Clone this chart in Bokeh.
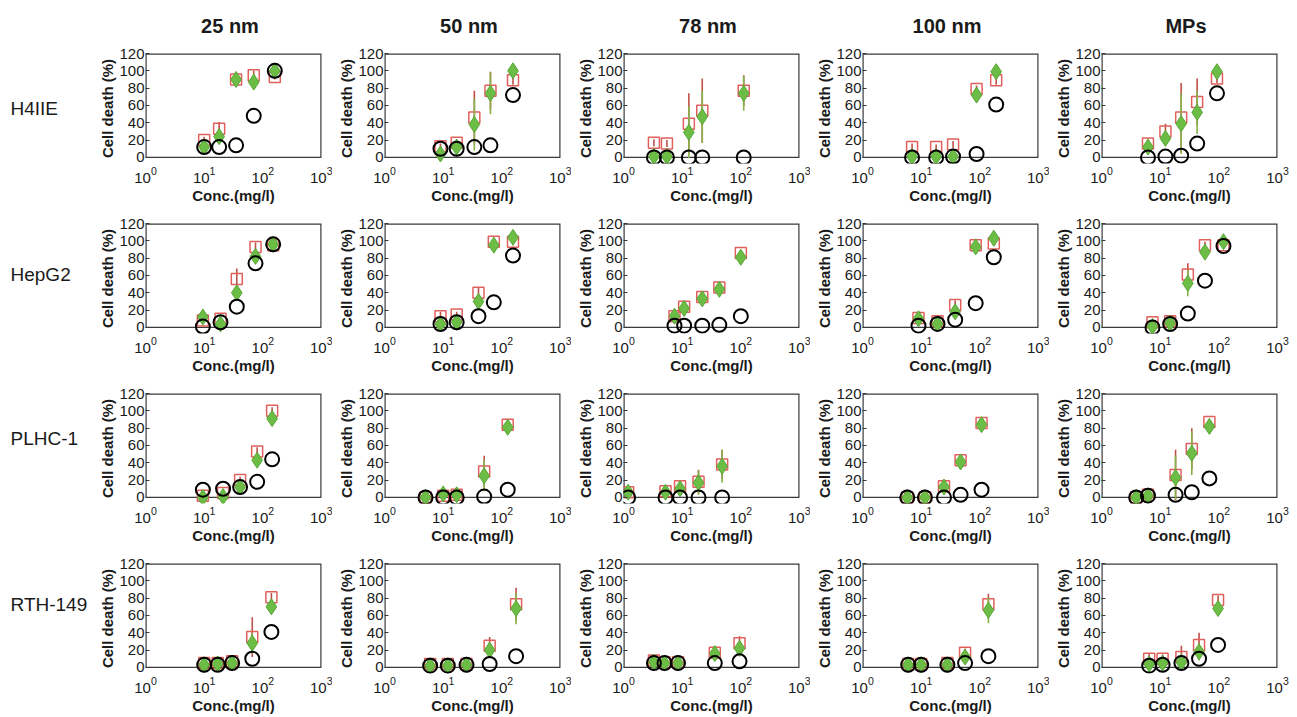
from bokeh.plotting import figure
from bokeh.layouts import gridplot
from bokeh.models import Range1d, FixedTicker, ColumnDataSource
from bokeh.core.properties import value
from bokeh.embed import file_html
from bokeh.resources import INLINE

FONT = "Liberation Sans"

# ---------------- data ----------------
particle_sizes = ["25 nm", "50 nm", "78 nm", "100 nm", "MPs"]
cell_lines = ["H4IIE", "HepG2", "PLHC-1", "RTH-149"]
x_ticks = [1, 10, 100, 1000]
y_ticks = [0, 20, 40, 60, 80, 100, 120]

# H4IIE (one inner list per particle size)
h4iie_conc = [[10, 18, 35, 70, 160], [9, 17, 34, 64, 155], [3.3, 5.5, 13, 22, 112],
              [7, 18, 35, 88, 190], [6.2, 12.3, 22.8, 42.7, 93]]
h4iie_red = [[20, 33, 90, 95, 93], [13, 17, 46, 77, 89], [17, 16, 39, 54, 77],
             [12, 12, 15, 79, 89], [16, 30, 46, 64, 91]]
h4iie_red_err = [[4, 8, 4, 5, 3], [3, 3, 31, 22, 5], [4, 4, 35, 37, 18],
                 [4, 3, 4, 4, 5], [4, 9, 40, 27, 5]]
h4iie_green = [[12, 24, 90, 87, 100], [4, 12, 38, 74, 100], [1, 1, 29, 47, 74],
               [1, 1, 1, 72, 99], [12, 22, 39, 52, 99]]
h4iie_green_err = [[3, 5, 4, 4, 3], [4, 5, 30, 24, 4], [2, 2, 30, 30, 20],
                   [2, 2, 2, 5, 4], [4, 5, 35, 25, 3]]
h4iie_black = [[12, 12, 14, 48, 100], [10, 10, 12, 14, 72], [0, 0, 0, 0, 0],
               [0, 0, 1, 4, 61], [0, 1, 2, 16, 74]]

# HepG2
hepg2_conc = [[9.5, 19, 36, 75, 150], [9, 17, 40, 73, 155], [7.4, 10.8, 22, 43, 100],
              [9, 19, 38, 85, 173], [7.4, 14.8, 29.6, 58, 120]]
hepg2_red = [[8, 10, 56, 93, 95], [13, 15, 40, 99, 99], [13, 24, 35, 46, 86],
             [11, 7, 26, 95, 97], [6, 7, 61, 95, 95]]
hepg2_red_err = [[3, 4, 12, 5, 4], [5, 3, 6, 3, 3], [3, 3, 3, 4, 3],
                 [3, 3, 5, 3, 3], [3, 3, 13, 4, 3]]
hepg2_green = [[12, 4, 40, 82, 96], [4, 6, 30, 95, 104], [13, 22, 33, 44, 81],
               [10, 4, 18, 93, 103], [1, 5, 51, 87, 99]]
hepg2_green_err = [[4, 3, 4, 5, 3], [3, 3, 4, 4, 4], [3, 3, 3, 3, 3],
                   [3, 3, 4, 3, 3], [3, 3, 15, 4, 3]]
hepg2_black = [[1, 6, 24, 74, 96], [4, 6, 13, 29, 83], [2, 2, 2, 3, 13],
               [2, 4, 9, 28, 81], [0, 4, 16, 54, 94]]

# PLHC-1
plhc1_conc = [[9.5, 21, 41, 80, 144], [5, 10, 17, 50, 126], [1.2, 5.2, 9.2, 19, 48],
              [5.8, 11.6, 24.5, 47, 107], [3.9, 6.2, 18.3, 34.6, 69]]
plhc1_red = [[2, 5, 20, 53, 100], [0, 2, 3, 30, 84], [6, 7, 13, 18, 38],
             [0, 0, 13, 43, 86], [0, 3, 26, 56, 87]]
plhc1_red_err = [[2, 2, 4, 5, 4], [1, 2, 2, 18, 3], [3, 3, 4, 14, 17],
                 [1, 1, 3, 5, 3], [1, 3, 29, 24, 3]]
plhc1_green = [[0, 1, 12, 43, 91], [0, 4, 3, 25, 81], [6, 6, 10, 17, 36],
               [0, 0, 12, 41, 84], [0, 2, 23, 51, 82]]
plhc1_green_err = [[2, 2, 3, 4, 3], [1, 3, 3, 18, 3], [3, 3, 4, 14, 19],
                   [1, 1, 3, 4, 3], [1, 2, 25, 25, 3]]
plhc1_black = [[9, 10, 12, 18, 44], [0, 0, 0, 1, 9], [0, 0, 0, 0, 0],
               [0, 0, 0, 3, 9], [0, 2, 3, 6, 22]]

# RTH-149
rth149_conc = [[10, 17, 30, 66, 140], [6, 12, 25, 62, 175], [3.3, 5, 8.5, 36, 95],
               [6, 10, 28, 56, 140], [6.5, 11, 23, 46, 97]]
rth149_red = [[5, 5, 7, 35, 81], [4, 4, 4, 25, 73], [8, 6, 6, 17, 28],
              [4, 4, 5, 17, 73], [10, 10, 12, 26, 78]]
rth149_red_err = [[5, 3, 3, 23, 5], [3, 3, 3, 10, 19], [4, 3, 3, 6, 8],
                  [3, 3, 3, 5, 12], [6, 5, 13, 14, 5]]
rth149_green = [[3, 4, 5, 28, 70], [2, 2, 3, 20, 68], [6, 5, 5, 16, 22],
                [3, 3, 3, 12, 66], [4, 5, 6, 18, 68]]
rth149_green_err = [[3, 3, 3, 12, 6], [2, 2, 2, 8, 18], [3, 3, 3, 5, 7],
                    [2, 2, 2, 5, 15], [3, 3, 4, 10, 6]]
rth149_black = [[3, 3, 5, 10, 41], [2, 2, 3, 4, 13], [5, 5, 5, 5, 7],
                [3, 3, 3, 5, 13], [2, 3, 5, 10, 26]]

DATA = {
    "H4IIE": (h4iie_conc, h4iie_red, h4iie_red_err, h4iie_green, h4iie_green_err, h4iie_black),
    "HepG2": (hepg2_conc, hepg2_red, hepg2_red_err, hepg2_green, hepg2_green_err, hepg2_black),
    "PLHC-1": (plhc1_conc, plhc1_red, plhc1_red_err, plhc1_green, plhc1_green_err, plhc1_black),
    "RTH-149": (rth149_conc, rth149_red, rth149_red_err, rth149_green, rth149_green_err, rth149_black),
}

# ---------------- styling / layout ----------------
X_MIN, X_MAX = 1, 1000
Y_MIN, Y_MAX = 0, 120
Y_PAD = -7            # small room below 0 so markers at 0 are not cut in half
FW, FH = 176, 110
BL, BT = 52, 12
BR_COLS = [11, 11, 11, 11, 13]
BB_ROWS = [48, 48, 48, 43]
LW = 93               # width of the row-label column
HH = 41               # height of the header row
ROW_LABEL_FROM_TOP = [55, 51, 45, 41]
HEADER_FROM_TOP = 25

RED = "#e0605c"
RED_ERR = "#c0504a"
GREEN = "#6cbd45"
GREEN_LINE = "#58a636"
GREEN_ERR = "#86b24a"
FRAME = "#3a3a3a"
TXT = "#1a1a1a"


def blank_fig(**kw):
    f = figure(title=None, output_backend="svg", toolbar_location=None, tools="",
               x_axis_location=None, y_axis_location=None, **kw)
    f.xgrid.visible = False
    f.ygrid.visible = False
    f.outline_line_color = None
    return f


def header_fig(c):
    f = blank_fig(frame_width=FW, frame_height=HH, min_border_left=BL,
                  min_border_right=BR_COLS[c], min_border_top=0, min_border_bottom=0,
                  x_range=Range1d(0, 1), y_range=Range1d(0, HH))
    f.text(x=[0.48], y=[HH - HEADER_FROM_TOP], text=[particle_sizes[c]],
           text_align="center", text_baseline="middle", text_font=value(FONT),
           text_font_style="bold", text_font_size="20px", text_color=TXT)
    return f


def label_fig(r):
    row_h = BT + FH + BB_ROWS[r]
    f = blank_fig(frame_width=LW, frame_height=row_h, min_border_left=0,
                  min_border_right=0, min_border_top=0, min_border_bottom=0,
                  x_range=Range1d(0, LW), y_range=Range1d(0, row_h))
    f.text(x=[10], y=[row_h - ROW_LABEL_FROM_TOP[r]], text=[cell_lines[r]],
           text_align="left", text_baseline="middle", text_font=value(FONT),
           text_font_size="19px", text_color=TXT)
    return f


def make_panel(r, c):
    line = cell_lines[r]
    conc, red, red_err, green, green_err, black = (a[c] for a in DATA[line])
    src = ColumnDataSource(dict(
        x=conc, red=red, green=green, black=black,
        red_lo=[v - e for v, e in zip(red, red_err)],
        red_hi=[v + e for v, e in zip(red, red_err)],
        green_lo=[v - e for v, e in zip(green, green_err)],
        green_hi=[v + e for v, e in zip(green, green_err)],
    ))
    p = figure(title=None, x_axis_type="log", x_range=Range1d(X_MIN, X_MAX),
               y_range=Range1d(Y_PAD, Y_MAX),
               frame_width=FW, frame_height=FH,
               min_border_left=BL, min_border_right=BR_COLS[c],
               min_border_top=BT, min_border_bottom=BB_ROWS[r],
               output_backend="svg", toolbar_location=None, tools="")
    p.xgrid.visible = False
    p.ygrid.visible = False
    p.outline_line_color = None

    # visible box: 0..120 in y, full x range
    p.multi_line(xs=[[X_MIN, X_MIN, X_MAX, X_MAX]], ys=[[Y_MIN, Y_MAX, Y_MAX, Y_MIN]],
                 line_color=FRAME, line_width=2.4)
    p.segment(x0=[X_MIN], y0=[Y_MIN], x1=[X_MAX], y1=[Y_MIN],
              line_color=FRAME, line_width=1.2)

    xa = p.xaxis[0]
    xa.ticker = FixedTicker(ticks=x_ticks)
    xa.axis_line_color = None
    xa.major_tick_in = 0
    xa.major_tick_out = 0
    xa.minor_tick_in = 0
    xa.minor_tick_out = 0
    xa.major_label_text_font = FONT
    xa.major_label_text_font_size = "15px"
    xa.major_label_text_color = TXT
    xa.major_label_standoff = 3
    xa.axis_label = "Conc.(mg/l)"
    xa.axis_label_text_font = FONT
    xa.axis_label_text_font_style = "bold"
    xa.axis_label_text_font_size = "15px"
    xa.axis_label_text_color = TXT
    xa.axis_label_standoff = 1

    ya = p.yaxis[0]
    ya.ticker = FixedTicker(ticks=y_ticks)
    ya.axis_line_color = None
    ya.major_tick_in = 4
    ya.major_tick_out = 0
    ya.minor_tick_in = 0
    ya.minor_tick_out = 0
    ya.major_tick_line_color = FRAME
    ya.major_label_text_font = FONT
    ya.major_label_text_font_size = "15px"
    ya.major_label_text_color = TXT
    ya.major_label_standoff = 1
    ya.axis_label = "Cell death (%)"
    ya.axis_label_text_font = FONT
    ya.axis_label_text_font_style = "bold"
    ya.axis_label_text_font_size = "15px"
    ya.axis_label_text_color = TXT
    ya.axis_label_standoff = 0

    p.segment(x0="x", y0="red_lo", x1="x", y1="red_hi", source=src,
              line_color=RED_ERR, line_width=1.6)
    p.scatter(x="x", y="red", source=src, marker="square", size=11,
              fill_color=None, line_color=RED, line_width=1.5)
    p.segment(x0="x", y0="green_lo", x1="x", y1="green_hi", source=src,
              line_color=GREEN_ERR, line_width=1.6)
    p.scatter(x="x", y="green", source=src, marker="diamond", size=16,
              fill_color=GREEN, line_color=GREEN_LINE, line_width=1)
    p.scatter(x="x", y="black", source=src, marker="circle", size=14,
              fill_color=None, line_color="black", line_width=2)
    return p


grid = [[None] + [header_fig(c) for c in range(len(particle_sizes))]]
for r in range(len(cell_lines)):
    grid.append([label_fig(r)] + [make_panel(r, c) for c in range(len(particle_sizes))])

p = gridplot(grid, toolbar_location=None)

with open("out.html", "w") as f:
    f.write(file_html(p, INLINE))
